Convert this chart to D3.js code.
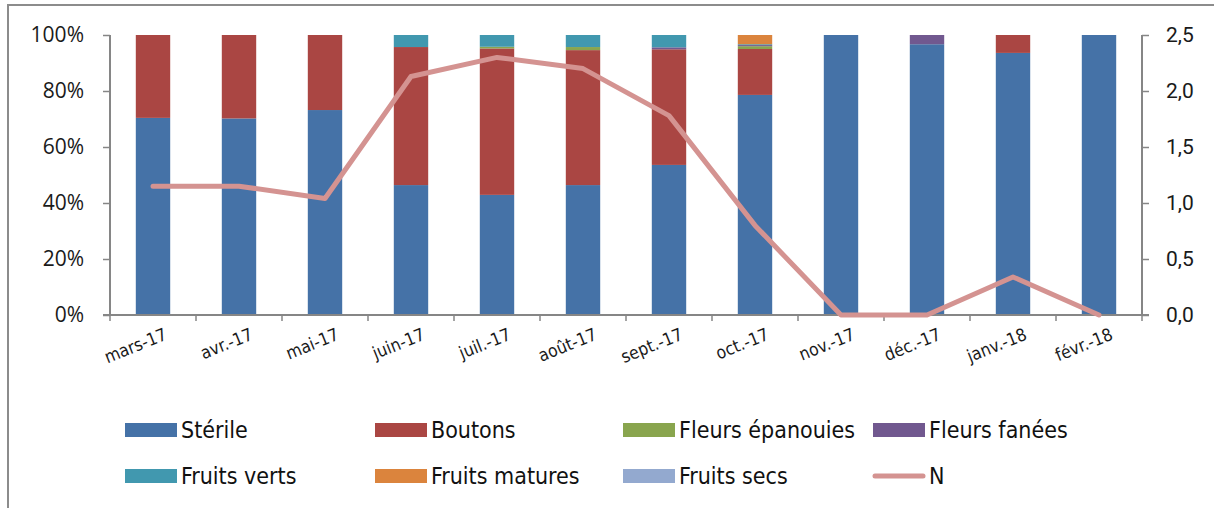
<!DOCTYPE html>
<html>
<head>
<meta charset="utf-8">
<script src="https://cdn.jsdelivr.net/npm/d3@7"></script>
<style>
  html, body { margin: 0; padding: 0; background: #fff; }
  svg { display: block; }
</style>
</head>
<body>
<svg id="chart" width="1214" height="508"></svg>
<script>
// Monthly phenology shares (%) with mean N on a secondary axis
const months = ["mars-17","avr.-17","mai-17","juin-17","juil.-17","août-17","sept.-17","oct.-17","nov.-17","déc.-17","janv.-18","févr.-18"];
const sterile       = [70.4, 70.2, 73.2, 46.4, 42.9, 46.4, 53.6, 78.6, 100, 96.7, 93.6, 100];
const boutons       = [29.6, 29.8, 26.8, 49.3, 52.3, 48.2, 41.3, 16.4, 0, 0, 6.4, 0];
const fleursEp      = [0, 0, 0, 0, 0.6, 1.1, 0, 1.0, 0, 0, 0, 0];
const fleursFanees  = [0, 0, 0, 0, 0, 0, 0.7, 0.4, 0, 3.3, 0, 0];
const fruitsVerts   = [0, 0, 0, 4.3, 4.2, 4.3, 4.4, 0.3, 0, 0, 0, 0];
const fruitsMatures = [0, 0, 0, 0, 0, 0, 0, 3.3, 0, 0, 0, 0];
const fruitsSecs    = [0, 0, 0, 0, 0, 0, 0, 0, 0, 0, 0, 0];
const nValues       = [1.15, 1.15, 1.04, 2.13, 2.30, 2.20, 1.78, 0.80, 0, 0, 0.34, 0];

const seriesNames = ["Stérile","Boutons","Fleurs épanouies","Fleurs fanées","Fruits verts","Fruits matures","Fruits secs"];
const seriesValues = [sterile, boutons, fleursEp, fleursFanees, fruitsVerts, fruitsMatures, fruitsSecs];
const seriesColors = ["#4572a7","#aa4643","#89a54e","#71588f","#4198af","#db843d","#93a9cf"];
const lineName = "N";
const lineColor = "#d49391";

const leftTicks = [0, 20, 40, 60, 80, 100];
const rightTicks = [0, 0.5, 1.0, 1.5, 2.0, 2.5];

const svg = d3.select("#chart");
const axisColor = "#868686";
const narrowFont = "'Liberation Sans Narrow', 'DejaVu Sans Condensed', sans-serif";

const plot = { left: 110, right: 1142, top: 35, bottom: 315 };

const x = d3.scaleBand().domain(months).range([plot.left, plot.right])
  .paddingInner(0.6).paddingOuter(0.3);
const y = d3.scaleLinear().domain([0, 100]).range([plot.bottom, plot.top]);
const y2 = d3.scaleLinear().domain([0, 2.5]).range([plot.bottom, plot.top]);

// outer frame
svg.append("path")
  .attr("d", "M8,508 L8,5 L1214,5")
  .attr("fill", "none").attr("stroke", "#8c8c8c").attr("stroke-width", 2);

// stacked bars
const rows = months.map((m, i) => {
  const r = { month: m };
  seriesNames.forEach((s, k) => r[s] = seriesValues[k][i]);
  return r;
});
const stacked = d3.stack().keys(seriesNames)(rows);

svg.append("g").selectAll("g")
  .data(stacked)
  .join("g")
  .attr("fill", (d, k) => seriesColors[k])
  .selectAll("rect")
  .data(d => d.filter(p => p[1] - p[0] > 0))
  .join("rect")
  .attr("x", d => x(d.data.month))
  .attr("width", x.bandwidth())
  .attr("y", d => y(d[1]))
  .attr("height", d => y(d[0]) - y(d[1]));

// left axis
const leftAxis = svg.append("g")
  .attr("transform", `translate(${plot.left},0)`)
  .call(d3.axisLeft(y).tickValues(leftTicks).tickSize(7).tickPadding(19)
    .tickFormat(d => d + "%"));
leftAxis.select(".domain").attr("stroke", axisColor).attr("stroke-width", 2)
  .attr("d", `M0,${plot.top}V${plot.bottom}`);
leftAxis.selectAll(".tick line").attr("stroke", axisColor).attr("stroke-width", 1.5);
leftAxis.selectAll(".tick text")
  .attr("font-family", "'Open Sans', sans-serif").attr("font-size", 21)
  .attr("fill", "#1a1a1a");

// right axis
const rightAxis = svg.append("g")
  .attr("transform", `translate(${plot.right},0)`)
  .call(d3.axisRight(y2).tickValues(rightTicks).tickSize(7).tickPadding(17)
    .tickFormat(d => d3.format(".1f")(d).replace(".", ",")));
rightAxis.select(".domain").attr("stroke", axisColor).attr("stroke-width", 2)
  .attr("d", `M0,${plot.top}V${plot.bottom}`);
rightAxis.selectAll(".tick line").attr("stroke", axisColor).attr("stroke-width", 1.5);
rightAxis.selectAll(".tick text")
  .attr("font-family", "Roboto, sans-serif").attr("font-size", 21)
  .attr("fill", "#1a1a1a");

// bottom axis with ticks between categories
const step = x.step();
const boundaries = months.map(m => x(m) - step * x.paddingInner() / 2)
  .concat([x(months[months.length - 1]) + x.bandwidth() + step * x.paddingInner() / 2]);
const bottom = svg.append("g");
bottom.append("line")
  .attr("x1", plot.left - 7).attr("x2", plot.right + 7)
  .attr("y1", plot.bottom).attr("y2", plot.bottom)
  .attr("stroke", axisColor).attr("stroke-width", 2);
bottom.selectAll("line.tk")
  .data(boundaries)
  .join("line").attr("class", "tk")
  .attr("x1", d => d).attr("x2", d => d)
  .attr("y1", plot.bottom).attr("y2", plot.bottom + 6)
  .attr("stroke", axisColor).attr("stroke-width", 1.5);
bottom.selectAll("text")
  .data(months)
  .join("text")
  .attr("transform", d => `translate(${x(d) + x.bandwidth() / 2 + 15},${plot.bottom + 24}) rotate(-22)`)
  .attr("text-anchor", "end")
  .attr("font-family", narrowFont)
  .attr("font-size", 17.5)
  .attr("fill", "#1a1a1a")
  .text(d => d);

// N line on secondary axis
const line = d3.line()
  .x((d, i) => x(months[i]) + x.bandwidth() / 2)
  .y(d => y2(d));
svg.append("path")
  .datum(nValues)
  .attr("d", line)
  .attr("fill", "none")
  .attr("stroke", lineColor)
  .attr("stroke-width", 5)
  .attr("stroke-linejoin", "round")
  .attr("stroke-linecap", "round");

// legend
const legendCols = [125, 375, 623, 873];
const legendRows = [430, 476];
const legendItems = seriesNames.map((s, k) => ({ name: s, color: seriesColors[k], type: "rect" }))
  .concat([{ name: lineName, color: lineColor, type: "line" }]);
const legend = svg.append("g");
legendItems.forEach((it, i) => {
  const cx = legendCols[i % 4];
  const cy = legendRows[Math.floor(i / 4)];
  const g = legend.append("g");
  if (it.type === "rect") {
    g.append("rect").attr("x", cx).attr("y", cy - 7).attr("width", 52).attr("height", 14)
      .attr("fill", it.color);
  } else {
    g.append("line").attr("x1", cx + 2).attr("x2", cx + 50).attr("y1", cy).attr("y2", cy)
      .attr("stroke", it.color).attr("stroke-width", 5).attr("stroke-linecap", "round");
  }
  g.append("text")
    .attr("x", cx + 56).attr("y", cy).attr("dy", "0.36em")
    .attr("font-family", narrowFont)
    .attr("font-size", 23)
    .attr("fill", "#111")
    .text(it.name);
});
</script>
</body>
</html>
